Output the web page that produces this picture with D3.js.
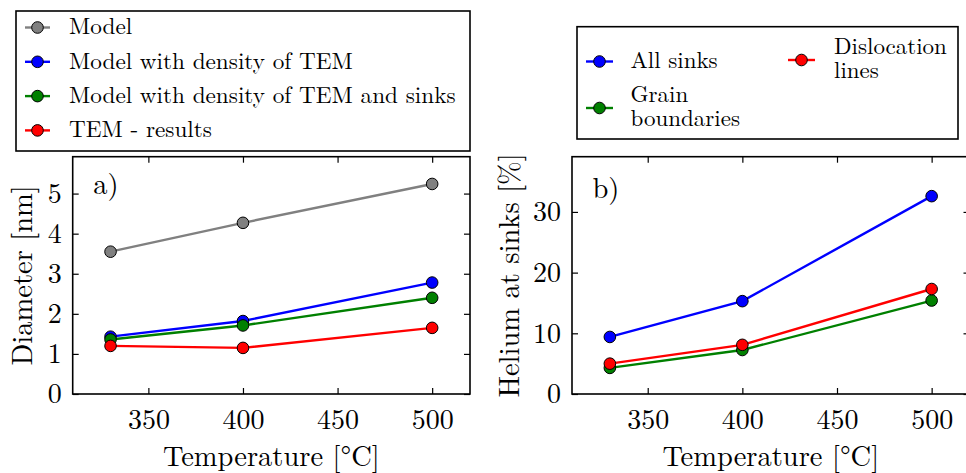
<!DOCTYPE html>
<html>
<head>
<meta charset="utf-8">
<script src="https://cdn.jsdelivr.net/npm/d3@7"></script>
<style>
    body { margin: 0; background: #fff; }
    svg { display: block; }
</style>
</head>
<body>
<svg id="chart" width="966" height="473"></svg>
<script>
// temperatures (°C)
const temperatures = [330, 400, 500];

// panel a) - diameter [nm]
const diameterModel = [3.55, 4.27, 5.24];
const diameterModelTEM = [1.43, 1.82, 2.78];
const diameterModelTEMSinks = [1.36, 1.71, 2.40];
const diameterTEM = [1.20, 1.15, 1.65];

// panel b) - helium at sinks [%]
const heliumAllSinks = [9.4, 15.3, 32.6];
const heliumGrainBoundaries = [4.3, 7.25, 15.4];
const heliumDislocationLines = [5.0, 8.1, 17.3];

const xTicks = [350, 400, 450, 500];
const yTicksA = [0, 1, 2, 3, 4, 5];
const yTicksB = [0, 10, 20, 30];

const seriesA = [
    {name: 'Model', values: diameterModel, color: '#808080'},
    {name: 'Model with density of TEM', values: diameterModelTEM, color: '#0000ff'},
    {name: 'Model with density of TEM and sinks', values: diameterModelTEMSinks, color: '#008000'},
    {name: 'TEM - results', values: diameterTEM, color: '#ff0000'}
];

const seriesB = [
    {name: ['All sinks'], values: heliumAllSinks, color: '#0000ff'},
    {name: ['Grain', 'boundaries'], values: heliumGrainBoundaries, color: '#008000'},
    {name: ['Dislocation', 'lines'], values: heliumDislocationLines, color: '#ff0000'}
];

const FONT = '"Latin Modern Roman", "Liberation Serif"';

const svg = d3.select('#chart');

function panel (opts) {

    let x = d3.scaleLinear().domain([310, 520]).range([opts.left, opts.right]),
        y = d3.scaleLinear().domain(opts.ydomain).range([opts.bottom, opts.top]);

    let g = svg.append('g');

    let tick = 6;

    g.append('g')
        .attr('transform', 'translate(0,' + opts.bottom + ')')
        .call(d3.axisBottom(x).tickValues(xTicks).tickSizeInner(-tick).tickSizeOuter(0).tickPadding(15));
    g.append('g')
        .attr('transform', 'translate(0,' + opts.top + ')')
        .call(d3.axisTop(x).tickValues(xTicks).tickSizeInner(-tick).tickSizeOuter(0).tickFormat(''));
    g.append('g')
        .attr('transform', 'translate(' + opts.left + ',0)')
        .call(d3.axisLeft(y).tickValues(opts.yticks).tickFormat(d3.format('d'))
            .tickSizeInner(-tick).tickSizeOuter(0).tickPadding(11));
    g.append('g')
        .attr('transform', 'translate(' + opts.right + ',0)')
        .call(d3.axisRight(y).tickValues(opts.yticks).tickSizeInner(-tick).tickSizeOuter(0).tickFormat(''));

    g.selectAll('.domain').remove();
    g.selectAll('.tick line').attr('stroke', '#000').attr('stroke-width', 1.2);
    g.selectAll('.tick text')
        .attr('fill', '#000')
        .style('font-family', FONT)
        .style('font-size', '28px');

    g.append('rect')
        .attr('x', opts.left)
        .attr('y', opts.top)
        .attr('width', opts.right - opts.left)
        .attr('height', opts.bottom - opts.top)
        .attr('fill', 'none')
        .attr('stroke', '#000')
        .attr('stroke-width', 1.6);

    let line = d3.line()
        .x(function (d, i) { return x(temperatures[i]); })
        .y(function (d) { return y(d); });

    let s = g.selectAll('g.series')
        .data(opts.series)
        .enter()
        .append('g')
        .attr('class', 'series');

    s.append('path')
        .attr('d', function (d) { return line(d.values); })
        .attr('fill', 'none')
        .attr('stroke', function (d) { return d.color; })
        .attr('stroke-width', 2.4);

    s.selectAll('circle')
        .data(function (d) { return d.values.map(function (v, i) { return {v: v, i: i, color: d.color}; }); })
        .enter()
        .append('circle')
        .attr('cx', function (d) { return x(temperatures[d.i]); })
        .attr('cy', function (d) { return y(d.v); })
        .attr('r', 5.8)
        .attr('fill', function (d) { return d.color; })
        .attr('stroke', '#000')
        .attr('stroke-width', 1);

    g.append('text')
        .attr('x', opts.left + 20.5)
        .attr('y', opts.top + opts.tagDy)
        .style('font-family', FONT)
        .style('font-size', '28.5px')
        .text(opts.tag);

    g.append('text')
        .attr('x', (opts.left + opts.right) / 2)
        .attr('y', 466)
        .attr('text-anchor', 'middle')
        .style('font-family', FONT)
        .style('font-size', '28.5px')
        .text('Temperature [°C]');

    g.append('text')
        .attr('transform', 'translate(' + opts.ylabelX + ',' + ((opts.top + opts.bottom) / 2) + ') rotate(-90)')
        .attr('text-anchor', 'middle')
        .style('font-family', FONT)
        .style('font-size', '28.5px')
        .text(opts.ylabel);

    return g;
}

panel({
    left: 72.7, right: 470, top: 156.7, bottom: 394,
    ydomain: [0, 5.92], yticks: yTicksA, series: seriesA,
    tag: 'a)', tagDy: 37, ylabel: 'Diameter [nm]', ylabelX: 32
});

panel({
    left: 572, right: 969.5, top: 156.7, bottom: 394,
    ydomain: [0, 39.1], yticks: yTicksB, series: seriesB,
    tag: 'b)', tagDy: 41, ylabel: 'Helium at sinks [%]', ylabelX: 519
});

// legend a)
let legA = svg.append('g');
legA.append('rect')
    .attr('x', 16).attr('y', 11).attr('width', 454).attr('height', 140)
    .attr('fill', '#fff').attr('stroke', '#000').attr('stroke-width', 1.6);

let rowA = legA.selectAll('g.row')
    .data(seriesA)
    .enter()
    .append('g')
    .attr('class', 'row')
    .attr('transform', function (d, i) { return 'translate(0,' + (27.5 + i * 34.3) + ')'; });

rowA.append('line')
    .attr('x1', 25).attr('x2', 50)
    .attr('stroke', function (d) { return d.color; })
    .attr('stroke-width', 2.4);
rowA.append('circle')
    .attr('cx', 37.5).attr('r', 5.8)
    .attr('fill', function (d) { return d.color; })
    .attr('stroke', '#000').attr('stroke-width', 1);
rowA.append('text')
    .attr('x', 69).attr('dy', '0.3em')
    .style('font-family', FONT)
    .style('font-size', '23.2px')
    .text(function (d) { return d.name; });

// legend b)
let legB = svg.append('g');
legB.append('rect')
    .attr('x', 577).attr('y', 26.7).attr('width', 381).attr('height', 112.3)
    .attr('fill', '#fff').attr('stroke', '#000').attr('stroke-width', 1.6);

const legBPos = [
    {mx: 599.5, my: 61.5, tx: 630.5, ty: [61.5]},
    {mx: 599.5, my: 108, tx: 630.5, ty: [95, 119]},
    {mx: 801.5, my: 60, tx: 834, ty: [47, 71.5]}
];

let rowB = legB.selectAll('g.row')
    .data(seriesB)
    .enter()
    .append('g')
    .attr('class', 'row');

rowB.append('line')
    .attr('x1', function (d, i) { return legBPos[i].mx - 13.5; })
    .attr('x2', function (d, i) { return legBPos[i].mx + 13.5; })
    .attr('y1', function (d, i) { return legBPos[i].my; })
    .attr('y2', function (d, i) { return legBPos[i].my; })
    .attr('stroke', function (d) { return d.color; })
    .attr('stroke-width', 2.4);
rowB.append('circle')
    .attr('cx', function (d, i) { return legBPos[i].mx; })
    .attr('cy', function (d, i) { return legBPos[i].my; })
    .attr('r', 5.8)
    .attr('fill', function (d) { return d.color; })
    .attr('stroke', '#000').attr('stroke-width', 1);
// one text element per entry, wrapped lines as tspans
rowB.each(function (d, i) {
    let p = legBPos[i];
    d3.select(this)
        .append('text')
        .style('font-family', FONT)
        .style('font-size', '23px')
        .selectAll('tspan')
        .data(d.name)
        .enter()
        .append('tspan')
        .attr('x', p.tx)
        .attr('y', function (t, j) { return p.ty[j]; })
        .attr('dy', '0.3em')
        .text(function (t) { return t; });
});
</script>
</body>
</html>
